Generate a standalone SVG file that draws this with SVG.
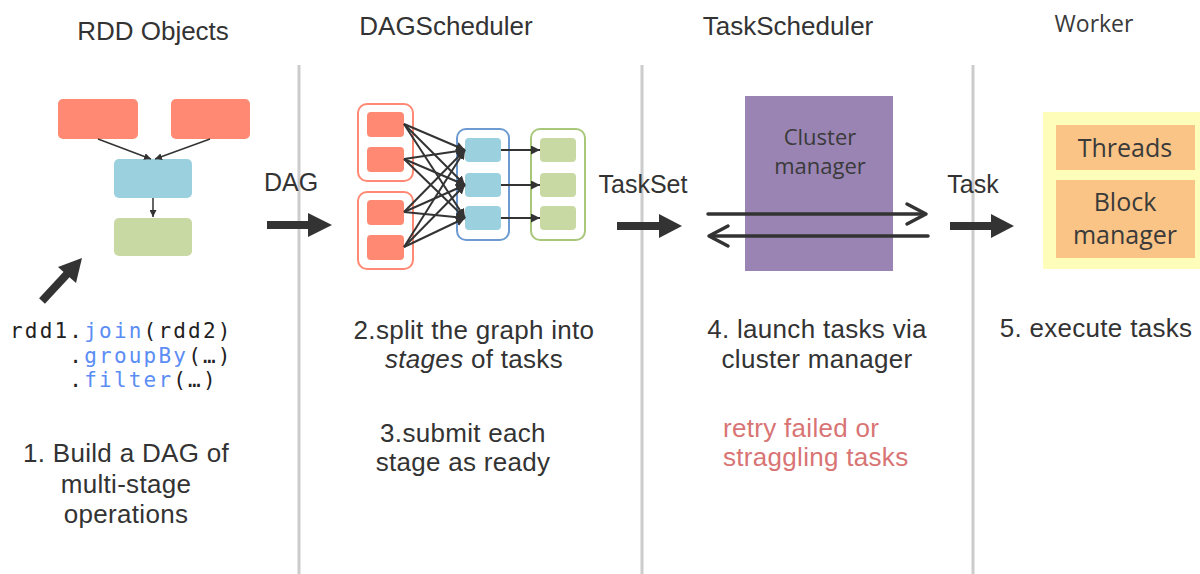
<svg xmlns="http://www.w3.org/2000/svg" width="1200" height="574" viewBox="0 0 1200 574">
<style>
.hdr{font-family:"Liberation Sans",Arial,sans-serif;font-size:26px;fill:#333;text-anchor:middle}
.body{font-family:"Liberation Sans",Arial,sans-serif;font-size:26px;letter-spacing:0.3px;fill:#333;text-anchor:middle}
.lbl{font-family:"Liberation Sans",Arial,sans-serif;font-size:25px;fill:#333;text-anchor:middle}
.os{font-family:"Open Sans","Noto Sans",sans-serif;fill:#3a3a3a;text-anchor:middle}
.code{font-family:"DejaVu Sans Mono","Liberation Mono",monospace;font-size:21px;letter-spacing:2.2px;fill:#222}
.kw{fill:#5b8df5}
.sep{stroke:#cccccc;stroke-width:3}
.red{fill:#ff8973}
.blue{fill:#9bd0de}
.green{fill:#c9d9a4}
.thin{stroke:#333;stroke-width:1.5;fill:none}
.edge{stroke:#333;stroke-width:2;fill:none}
.big{stroke:#333;stroke-width:8;fill:none}
.bigHead{fill:#333}
.open{stroke:#333;stroke-width:3.5;fill:none;stroke-linecap:round;stroke-linejoin:round}
</style>
<defs>
<marker id="sm" viewBox="0 0 10 10" refX="10" refY="5" markerWidth="7" markerHeight="7" markerUnits="userSpaceOnUse" orient="auto"><path d="M0,0 L10,5 L0,10 z" fill="#333"/></marker>
<marker id="md" viewBox="0 0 10 10" refX="10" refY="5" markerWidth="9" markerHeight="9" markerUnits="userSpaceOnUse" orient="auto"><path d="M0,0 L10,5 L0,10 z" fill="#333"/></marker>
</defs>
<rect width="1200" height="574" fill="#ffffff"/>

<g id="separators">
<line class="sep" x1="299" y1="65" x2="299" y2="574"/>
<line class="sep" x1="642" y1="65" x2="642" y2="574"/>
<line class="sep" x1="973" y1="65" x2="973" y2="574"/>
</g>

<g id="headers">
<text class="hdr" x="153" y="40">RDD Objects</text>
<text class="hdr" x="446" y="35">DAGScheduler</text>
<text class="hdr" x="788" y="35">TaskScheduler</text>
<text class="os" x="1094" y="32" font-size="23">Worker</text>
</g>

<g id="rdd-objects">
<rect id="rdd-a" class="red" x="58" y="99" width="80" height="40" rx="5"/>
<rect id="rdd-b" class="red" x="171" y="99" width="79" height="40" rx="5"/>
<rect id="rdd-c" class="blue" x="114" y="159" width="78" height="39" rx="5"/>
<rect id="rdd-d" class="green" x="114" y="218" width="78" height="38" rx="5"/>
</g>

<g id="dag-stages">
<rect x="358" y="104" width="55" height="77" rx="9" fill="#fff" stroke="#ff8973" stroke-width="2"/>
<rect x="358" y="192" width="55" height="77" rx="9" fill="#fff" stroke="#ff8973" stroke-width="2"/>
<rect x="457" y="129" width="52" height="111" rx="9" fill="#fff" stroke="#6d9bd1" stroke-width="2"/>
<rect x="531" y="129" width="54" height="111" rx="9" fill="#fff" stroke="#a9c77a" stroke-width="2"/>
<rect class="red" x="367" y="112" width="37" height="25" rx="4"/>
<rect class="red" x="367" y="147" width="37" height="25" rx="4"/>
<rect class="red" x="367" y="200" width="37" height="25" rx="4"/>
<rect class="red" x="367" y="235" width="37" height="25" rx="4"/>
<rect class="blue" x="465" y="138" width="36" height="24" rx="4"/>
<rect class="blue" x="465" y="173" width="36" height="24" rx="4"/>
<rect class="blue" x="465" y="206" width="36" height="24" rx="4"/>
<rect class="green" x="540" y="138" width="36" height="24" rx="4"/>
<rect class="green" x="540" y="173" width="36" height="24" rx="4"/>
<rect class="green" x="540" y="206" width="36" height="24" rx="4"/>
</g>

<g id="cluster-manager">
<rect x="745" y="96" width="148" height="175" fill="#9a84b4"/>
<text class="os" x="820" y="145" font-size="22">Cluster</text>
<text class="os" x="820" y="174" font-size="22">manager</text>
</g>

<g id="worker">
<rect x="1043" y="112" width="157" height="157" fill="#fffdba"/>
<rect x="1056" y="125" width="139" height="45" fill="#f9c486"/>
<rect x="1056" y="180" width="139" height="78" fill="#f9c486"/>
<text class="os" x="1125" y="157" font-size="25">Threads</text>
<text class="os" x="1125" y="211" font-size="25">Block</text>
<text class="os" x="1125" y="244" font-size="25">manager</text>
</g>

<g id="connectors">
<line class="thin" x1="98" y1="139" x2="151" y2="159" marker-end="url(#sm)"/>
<line class="thin" x1="210" y1="139" x2="155" y2="159" marker-end="url(#sm)"/>
<line class="thin" x1="153" y1="198" x2="153" y2="217" marker-end="url(#sm)"/>

<line class="edge" x1="404" y1="124" x2="465" y2="150" marker-end="url(#md)"/>
<line class="edge" x1="404" y1="124" x2="465" y2="185" marker-end="url(#md)"/>
<line class="edge" x1="404" y1="124" x2="465" y2="218" marker-end="url(#md)"/>
<line class="edge" x1="404" y1="159" x2="465" y2="150" marker-end="url(#md)"/>
<line class="edge" x1="404" y1="159" x2="465" y2="185" marker-end="url(#md)"/>
<line class="edge" x1="404" y1="159" x2="465" y2="218" marker-end="url(#md)"/>
<line class="edge" x1="404" y1="212" x2="465" y2="150" marker-end="url(#md)"/>
<line class="edge" x1="404" y1="212" x2="465" y2="185" marker-end="url(#md)"/>
<line class="edge" x1="404" y1="212" x2="465" y2="218" marker-end="url(#md)"/>
<line class="edge" x1="404" y1="247" x2="465" y2="150" marker-end="url(#md)"/>
<line class="edge" x1="404" y1="247" x2="465" y2="185" marker-end="url(#md)"/>
<line class="edge" x1="404" y1="247" x2="465" y2="218" marker-end="url(#md)"/>
<line class="edge" x1="501" y1="150" x2="540" y2="150" marker-end="url(#md)"/>
<line class="edge" x1="501" y1="185" x2="540" y2="185" marker-end="url(#md)"/>
<line class="edge" x1="501" y1="218" x2="540" y2="218" marker-end="url(#md)"/>

<line class="big" x1="42" y1="301" x2="68" y2="273"/>
<polygon class="bigHead" points="82,258 58,267 76,283"/>

<line class="big" x1="267" y1="225" x2="310" y2="225"/>
<polygon class="bigHead" points="308,213 332,225 308,237"/>
<line class="big" x1="617" y1="226" x2="661" y2="226"/>
<polygon class="bigHead" points="659,214 682,226 659,238"/>
<line class="big" x1="950" y1="226" x2="993" y2="226"/>
<polygon class="bigHead" points="991,214 1014,226 991,238"/>

<line class="open" x1="708" y1="214" x2="925" y2="214"/>
<polyline class="open" points="907,204 926,214 907,224"/>
<line class="open" x1="928" y1="236" x2="710" y2="236"/>
<polyline class="open" points="728,226 709,236 728,246"/>
</g>

<g id="labels">
<text class="lbl" x="291" y="191">DAG</text>
<text class="lbl" x="643" y="193">TaskSet</text>
<text class="lbl" x="973" y="193">Task</text>

<text class="code" x="10" y="338">rdd1.<tspan class="kw">join</tspan>(rdd2)</text>
<text class="code" x="10" y="363" xml:space="preserve">    .<tspan class="kw">groupBy</tspan>(…)</text>
<text class="code" x="10" y="387" xml:space="preserve">    .<tspan class="kw">filter</tspan>(…)</text>

<text class="body" x="126" y="462">1. Build a DAG of</text>
<text class="body" x="126" y="493">multi-stage</text>
<text class="body" x="126" y="523">operations</text>

<text class="body" x="474" y="339">2.split the graph into</text>
<text class="body" x="474" y="368"><tspan font-style="italic">stages</tspan> of tasks</text>
<text class="body" x="463" y="442">3.submit each</text>
<text class="body" x="463" y="471">stage as ready</text>

<text class="body" x="817" y="338">4. launch tasks via</text>
<text class="body" x="817" y="368">cluster manager</text>
<text class="body" x="723" y="437" style="text-anchor:start;fill:#d87474">retry failed or</text>
<text class="body" x="723" y="466" style="text-anchor:start;fill:#d87474">straggling tasks</text>

<text class="body" x="1096" y="337">5. execute tasks</text>
</g>
</svg>
